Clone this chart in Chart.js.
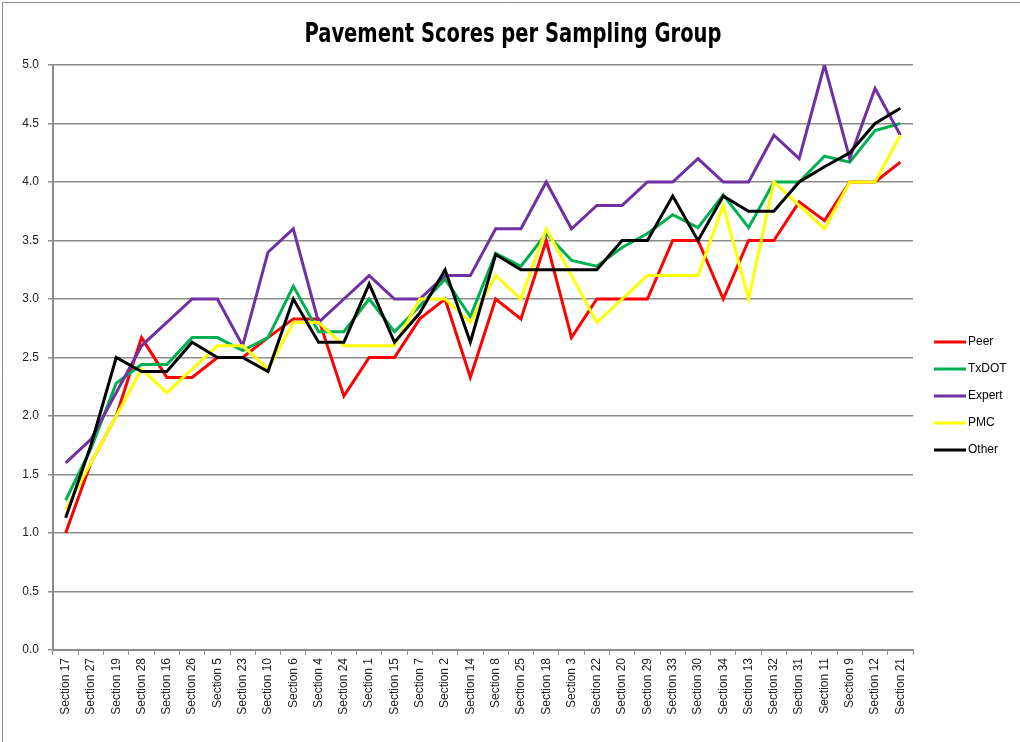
<!DOCTYPE html>
<html>
<head>
<meta charset="utf-8">
<title>Pavement Scores per Sampling Group</title>
<script src="https://cdn.jsdelivr.net/npm/chart.js@4"></script>
<style>
    html, body { margin: 0; padding: 0; background: #fff; }
    canvas { display: block; }
</style>
</head>
<body>
<canvas id="scoreChart" width="1020" height="742"></canvas>
<script>
// categories along the x axis
const sections = ['Section 17', 'Section 27', 'Section 19', 'Section 28', 'Section 16', 'Section 26', 'Section 5',
    'Section 23', 'Section 10', 'Section 6', 'Section 4', 'Section 24', 'Section 1', 'Section 15', 'Section 7',
    'Section 2', 'Section 14', 'Section 8', 'Section 25', 'Section 18', 'Section 3', 'Section 22', 'Section 20',
    'Section 29', 'Section 33', 'Section 30', 'Section 34', 'Section 13', 'Section 32', 'Section 31', 'Section 11',
    'Section 9', 'Section 12', 'Section 21'];

const peerScores = [1.0, 1.6, 2.0, 2.67, 2.33, 2.33, 2.5, 2.5, 2.67, 2.83, 2.83, 2.17, 2.5, 2.5, 2.83, 3.0, 2.33,
    3.0, 2.83, 3.5, 2.67, 3.0, 3.0, 3.0, 3.5, 3.5, 3.0, 3.5, 3.5, 3.83, 3.67, 4.0, 4.0, 4.17];
const txdotScores = [1.28, 1.72, 2.28, 2.44, 2.44, 2.67, 2.67, 2.56, 2.67, 3.11, 2.72, 2.72, 3.0, 2.72, 2.94, 3.17,
    2.85, 3.39, 3.28, 3.56, 3.33, 3.28, 3.44, 3.56, 3.72, 3.61, 3.89, 3.61, 4.0, 4.0, 4.22, 4.17, 4.44, 4.5];
const expertScores = [1.6, 1.8, 2.2, 2.6, 2.8, 3.0, 3.0, 2.6, 3.4, 3.6, 2.8, 3.0, 3.2, 3.0, 3.0, 3.2, 3.2, 3.6,
    3.6, 4.0, 3.6, 3.8, 3.8, 4.0, 4.0, 4.2, 4.0, 4.0, 4.4, 4.2, 5.0, 4.2, 4.8, 4.4];
const pmcScores = [1.2, 1.6, 2.0, 2.4, 2.2, 2.4, 2.6, 2.6, 2.4, 2.8, 2.8, 2.6, 2.6, 2.6, 3.0, 3.0, 2.8, 3.2, 3.0,
    3.6, 3.2, 2.8, 3.0, 3.2, 3.2, 3.2, 3.8, 3.0, 4.0, 3.8, 3.6, 4.0, 4.0, 4.4];
const otherScores = [1.13, 1.75, 2.5, 2.38, 2.38, 2.63, 2.5, 2.5, 2.38, 3.0, 2.63, 2.63, 3.13, 2.63, 2.88, 3.25,
    2.63, 3.38, 3.25, 3.25, 3.25, 3.25, 3.5, 3.5, 3.88, 3.5, 3.88, 3.75, 3.75, 4.0, 4.13, 4.25, 4.5, 4.63];

const groupNames = ['Peer', 'TxDOT', 'Expert', 'PMC', 'Other'];
const groupColors = ['#ff0000', '#00b050', '#7030a0', '#ffff00', '#000000'];
const groupValues = [peerScores, txdotScores, expertScores, pmcScores, otherScores];

const chartTitle = 'Pavement Scores per Sampling Group';

// y axis ticks
const yMin = 0;
const yMax = 5;
const yStep = 0.5;

// title, border and legend are drawn by hand so they sit where the original has them
const chartDecor = {
    id: 'chartDecor',
    afterDraw(chart) {
        const ctx = chart.ctx;
        ctx.save();
        // outer chart border (only left and top edges show in the original)
        ctx.strokeStyle = '#8c8c8c';
        ctx.lineWidth = 1;
        ctx.beginPath();
        ctx.moveTo(2.5, 742);
        ctx.lineTo(2.5, 2.5);
        ctx.lineTo(1020, 2.5);
        ctx.stroke();

        // condensed bold title
        ctx.font = 'bold 27px "DejaVu Sans Condensed", "DejaVu Sans", sans-serif';
        ctx.fillStyle = '#000';
        ctx.textAlign = 'center';
        ctx.textBaseline = 'alphabetic';
        const w = ctx.measureText(chartTitle).width;
        const sx = 417 / w;
        ctx.save();
        ctx.translate(513, 42);
        ctx.scale(sx, 1);
        ctx.fillText(chartTitle, 0, 0);
        ctx.restore();

        ctx.font = '12px "Liberation Sans", Arial, sans-serif';
        ctx.textBaseline = 'middle';
        ctx.textAlign = 'left';
        chart.data.datasets.forEach((ds, i) => {
            const y = 342 + i * 27;
            ctx.strokeStyle = ds.borderColor;
            ctx.lineWidth = 3;
            ctx.beginPath();
            ctx.moveTo(934, y);
            ctx.lineTo(966, y);
            ctx.stroke();
            ctx.fillStyle = '#000';
            ctx.fillText(ds.label, 968, y);
        });
        ctx.restore();
    }
};

const ctx = document.getElementById('scoreChart');
new Chart(ctx, {
    type: 'line',
    data: {
        labels: sections,
        datasets: groupNames.map((name, i) => ({
            label: name,
            data: groupValues[i],
            borderColor: groupColors[i],
            backgroundColor: groupColors[i],
            borderWidth: 3,
            pointRadius: 0,
            tension: 0,
            fill: false,
            order: groupNames.length - i
        }))
    },
    options: {
        responsive: false,
        animation: false,
        layout: { padding: { top: 65, right: 107, bottom: 0, left: 0 } },
        scales: {
            x: {
                offset: true,
                grid: { display: true, drawOnChartArea: false, color: '#8c8c8c', tickLength: 5, offset: true },
                border: { color: '#8c8c8c', width: 2 },
                ticks: {
                    autoSkip: false,
                    maxRotation: 90,
                    minRotation: 90,
                    color: '#222',
                    font: { family: '"Liberation Sans", Arial, sans-serif', size: 12 }
                },
                afterFit: scale => { scale.height = 92; }
            },
            y: {
                min: yMin,
                max: yMax,
                grid: { color: '#8c8c8c', lineWidth: 1.5, tickLength: 5 },
                border: { color: '#8c8c8c', width: 2 },
                ticks: {
                    stepSize: yStep,
                    color: '#222',
                    padding: 9,
                    font: { family: '"Liberation Sans", Arial, sans-serif', size: 12 },
                    callback: v => Number(v).toFixed(1)
                },
                afterFit: scale => { scale.width = 53; }
            }
        },
        plugins: {
            legend: { display: false },
            tooltip: { enabled: false },
            title: { display: false }
        }
    },
    plugins: [chartDecor]
});
</script>
</body>
</html>
